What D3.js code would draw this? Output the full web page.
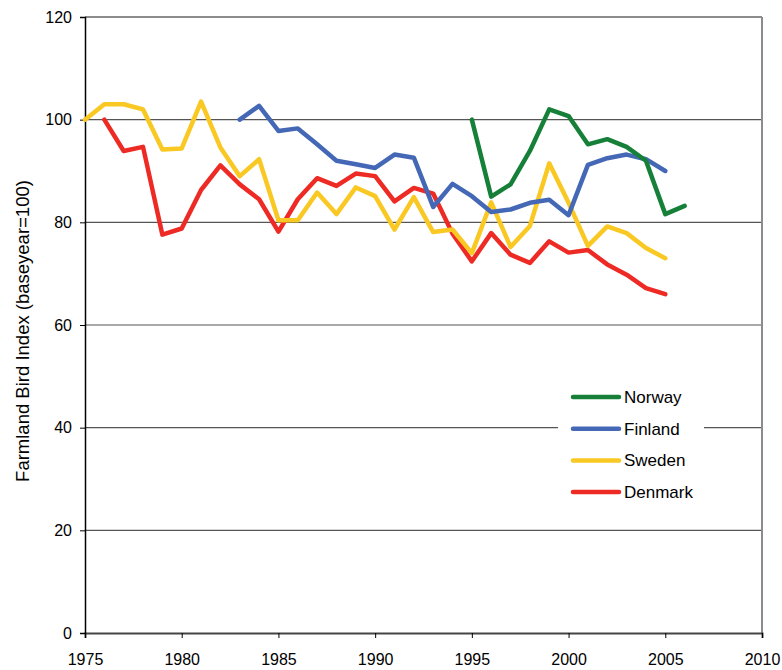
<!DOCTYPE html>
<html><head><meta charset="utf-8">
<script src="https://cdn.jsdelivr.net/npm/d3@7"></script>
<style>
body{margin:0;background:#fff;}
svg text{font-family:"Liberation Sans",Arial,sans-serif;}
</style></head>
<body><svg id="c" width="782" height="670"></svg>
<script>
const seriesNames = ["Norway","Finland","Sweden","Denmark"];
const seriesColors = ["#168039","#4468b6","#f9c823","#ee2a25"];
const norwayYears = [1995,1996,1997,1998,1999,2000,2001,2002,2003,2004,2005,2006];
const norwayValues = [100,85,87.4,93.9,102,100.7,95.2,96.2,94.7,92,81.6,83.2];
const finlandYears = [1983,1984,1985,1986,1987,1988,1989,1990,1991,1992,1993,1994,1995,1996,1997,1998,1999,2000,2001,2002,2003,2004,2005];
const finlandValues = [100,102.7,97.8,98.3,95.2,92,91.3,90.6,93.2,92.6,83,87.5,85.1,82,82.5,83.8,84.4,81.4,91.2,92.5,93.2,92.3,90];
const swedenYears = [1975,1976,1977,1978,1979,1980,1981,1982,1983,1984,1985,1986,1987,1988,1989,1990,1991,1992,1993,1994,1995,1996,1997,1998,1999,2000,2001,2002,2003,2004,2005];
const swedenValues = [100,103,103,102,94.2,94.4,103.5,94.6,89,92.3,80.4,80.4,85.8,81.6,86.8,85.1,78.6,84.9,78.1,78.6,74,83.9,75.2,79.3,91.5,83.8,75.4,79.2,77.9,75,73];
const denmarkYears = [1976,1977,1978,1979,1980,1981,1982,1983,1984,1985,1986,1987,1988,1989,1990,1991,1992,1993,1994,1995,1996,1997,1998,1999,2000,2001,2002,2003,2004,2005];
const denmarkValues = [100,93.9,94.7,77.6,78.8,86.3,91.1,87.4,84.5,78.2,84.5,88.6,87.1,89.5,89,84.1,86.7,85.6,77.8,72.4,77.9,73.7,72.1,76.3,74.1,74.6,71.8,69.8,67.2,66];
const xTicks = [1975,1980,1985,1990,1995,2000,2005,2010];
const yTicks = [0,20,40,60,80,100,120];
const yTitle = "Farmland Bird Index (baseyear=100)";

const svg = d3.select("#c");
const L=85,R=762,T=17,B=633;
const x = d3.scaleLinear().domain([1975,2010]).range([L,R]);
const y = d3.scaleLinear().domain([0,120]).range([B,T]);

// gridlines
svg.append("g").selectAll("line").data(yTicks.filter(d=>d>0)).join("line")
  .attr("x1",L).attr("x2",R).attr("y1",d=>y(d)).attr("y2",d=>y(d))
  .attr("stroke",d=>d===120?"#8c8c8c":"#555").attr("stroke-width",d=>d===120?2:1.2);
// right border
svg.append("line").attr("x1",R).attr("x2",R).attr("y1",T).attr("y2",B)
  .attr("stroke","#8c8c8c").attr("stroke-width",2);

// axes
const xAxis = svg.append("g").attr("transform",`translate(0,${B})`)
  .call(d3.axisBottom(x).tickValues(xTicks).tickFormat(d3.format("d")).tickSize(5).tickPadding(16));
const yAxis = svg.append("g").attr("transform",`translate(${L},0)`)
  .call(d3.axisLeft(y).tickValues(yTicks).tickSize(5).tickPadding(8));
[xAxis,yAxis].forEach(a=>{
  a.select(".domain").attr("stroke","#000").attr("stroke-width",1.5);
  a.selectAll(".tick line").attr("stroke","#000");
  a.selectAll("text").attr("font-size",16).attr("fill","#000")
   .attr("font-family","'Liberation Sans',Arial,sans-serif");
});
xAxis.select(".domain").attr("stroke","#444").attr("stroke-width",2);

svg.append("text").attr("transform",`translate(29,331) rotate(-90)`)
  .attr("text-anchor","middle").attr("font-size",18.5).text(yTitle);

const data = [
  {name:seriesNames[0],color:seriesColors[0],years:norwayYears,values:norwayValues},
  {name:seriesNames[1],color:seriesColors[1],years:finlandYears,values:finlandValues},
  {name:seriesNames[2],color:seriesColors[2],years:swedenYears,values:swedenValues},
  {name:seriesNames[3],color:seriesColors[3],years:denmarkYears,values:denmarkValues}
];
const line = d3.line().x(d=>x(d[0])).y(d=>y(d[1]));
[3,2,1,0].forEach(i=>{
  const s=data[i];
  svg.append("path").datum(s.years.map((yr,j)=>[yr,s.values[j]]))
    .attr("d",line).attr("fill","none").attr("stroke",s.color)
    .attr("stroke-width",4.5).attr("stroke-linejoin","round").attr("stroke-linecap","round");
});

// legend
const lg = svg.append("g");
lg.append("rect").attr("x",558).attr("y",380).attr("width",146).attr("height",128).attr("fill","#fff");
data.forEach((s,i)=>{
  const yy = 397 + i*31.7;
  lg.append("line").attr("x1",573).attr("x2",619).attr("y1",yy).attr("y2",yy)
    .attr("stroke",s.color).attr("stroke-width",4.5).attr("stroke-linecap","round");
  lg.append("text").attr("x",624).attr("y",yy+6).attr("font-size",17).text(s.name);
});
</script></body></html>
